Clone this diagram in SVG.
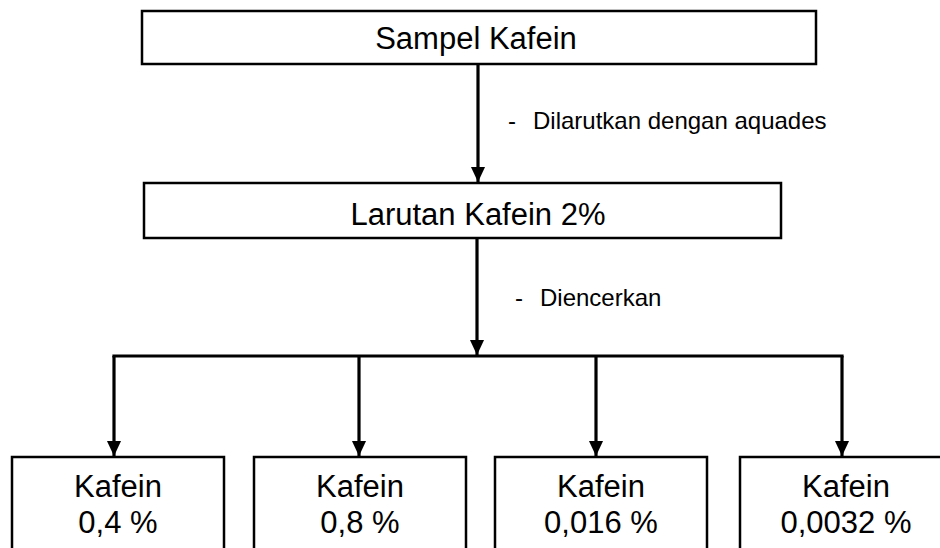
<svg xmlns="http://www.w3.org/2000/svg" width="940" height="548" viewBox="0 0 940 548">
<style>
.box{fill:#fff;stroke:#000;stroke-width:2.5}
.t{font-family:"Liberation Sans",Arial,sans-serif;font-size:31px;fill:#000;text-anchor:middle}
.s{font-family:"Liberation Sans",Arial,sans-serif;font-size:24px;fill:#000}
.ln{fill:none;stroke:#000;stroke-width:3.2}
</style>
<defs>
<marker id="ah" markerWidth="15" markerHeight="16" refX="16" refY="7.5" orient="auto" markerUnits="userSpaceOnUse" viewBox="0 0 16 15">
<path d="M0,0 L16,7.5 L0,15 Z" fill="#000"/>
</marker>
</defs>
<rect width="940" height="548" fill="#fff"/>
<g id="connectors">
<line class="ln" x1="478" y1="64" x2="478" y2="182" marker-end="url(#ah)"/>
<line class="ln" x1="477" y1="238" x2="477" y2="355" marker-end="url(#ah)"/>
<line class="ln" x1="112.4" y1="356" x2="843.6" y2="356"/>
<line class="ln" x1="114" y1="356" x2="114" y2="456" marker-end="url(#ah)"/>
<line class="ln" x1="359" y1="356" x2="359" y2="456" marker-end="url(#ah)"/>
<line class="ln" x1="596" y1="356" x2="596" y2="456" marker-end="url(#ah)"/>
<line class="ln" x1="842" y1="356" x2="842" y2="456" marker-end="url(#ah)"/>
<text class="s" x="508" y="129">-<tspan x="533">Dilarutkan dengan aquades</tspan></text>
<text class="s" x="515" y="306">-<tspan x="540">Diencerkan</tspan></text>
</g>
<g id="sampel">
<rect class="box" x="142" y="11" width="674" height="53"/>
<text class="t" x="476" y="49">Sampel Kafein</text>
</g>
<g id="larutan">
<rect class="box" x="144" y="183" width="637" height="55"/>
<text class="t" x="478" y="225">Larutan Kafein 2%</text>
</g>
<g id="k1">
<rect class="box" x="12" y="457" width="212" height="100"/>
<text class="t" x="118" y="497">Kafein</text>
<text class="t" x="118" y="533">0,4 %</text>
</g>
<g id="k2">
<rect class="box" x="254" y="457" width="212" height="100"/>
<text class="t" x="360" y="497">Kafein</text>
<text class="t" x="360" y="533">0,8 %</text>
</g>
<g id="k3">
<rect class="box" x="495" y="457" width="212" height="100"/>
<text class="t" x="601" y="497">Kafein</text>
<text class="t" x="601" y="533">0,016 %</text>
</g>
<g id="k4">
<rect class="box" x="740" y="457" width="212" height="100"/>
<text class="t" x="846" y="497">Kafein</text>
<text class="t" x="846" y="533">0,0032 %</text>
</g>
</svg>
